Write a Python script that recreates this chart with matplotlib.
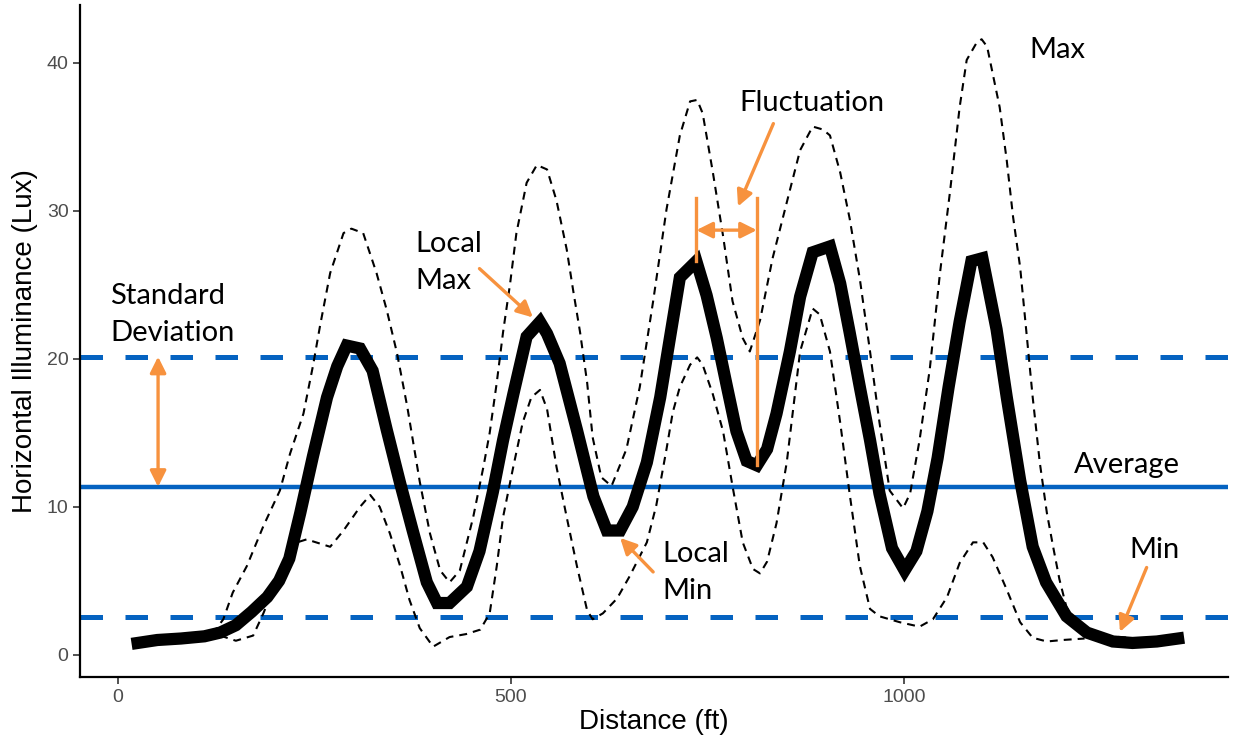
import matplotlib.pyplot as plt

# illuminance profile along the roadway (distance in ft, lux)
dist_mean = [25, 50, 80, 110, 130, 150, 170, 190, 205, 218, 232, 248, 266, 279,
             291, 308, 324, 342, 359, 375, 393, 406, 422, 444, 460, 477, 490,
             503, 520, 537, 546, 562, 584, 605, 622, 639, 655, 673, 690, 702,
             715, 736, 749, 762, 775, 787, 800, 813, 826, 838, 855, 868, 884,
             906, 919, 931, 944, 957, 969, 985, 1001, 1016, 1030, 1043, 1057,
             1071, 1086, 1100, 1118, 1131, 1148, 1164, 1181, 1207, 1233, 1266,
             1291, 1322, 1349]
lux_mean = [0.8, 1.0, 1.1, 1.25, 1.5, 2.0, 2.9, 3.9, 5.0, 6.5, 9.6, 13.4, 17.4,
            19.5, 20.9, 20.7, 19.2, 15.2, 11.6, 8.4, 4.9, 3.5, 3.5, 4.6, 7.0,
            11.0, 14.5, 17.6, 21.5, 22.5, 21.7, 19.7, 15.2, 10.7, 8.4, 8.4,
            10.0, 13.0, 17.4, 21.3, 25.5, 26.6, 24.3, 21.4, 18.1, 15.1, 13.1,
            12.8, 13.9, 16.3, 20.5, 24.2, 27.2, 27.6, 25.1, 21.8, 18.1, 14.5,
            10.9, 7.2, 5.7, 7.0, 9.7, 13.3, 18.1, 22.5, 26.6, 26.8, 22.0, 17.4,
            11.8, 7.3, 4.9, 2.6, 1.5, 0.9, 0.8, 0.9, 1.1]

dist_max = [120, 134, 146, 164, 185, 206, 219, 236, 248, 257, 270, 287, 297,
            312, 329, 342, 355, 368, 384, 397, 410, 422, 435, 452, 465, 473,
            482, 490, 499, 507, 520, 533, 546, 558, 571, 579, 588, 597, 604,
            615, 628, 647, 664, 681, 698, 715, 728, 737, 744, 757, 770, 782,
            795, 804, 817, 833, 855, 868, 884, 897, 906, 919, 931, 944, 957,
            969, 982, 999, 1008, 1020, 1033, 1046, 1059, 1071, 1080, 1093,
            1099, 1106, 1113, 1122, 1131, 1139, 1148, 1156, 1164, 1173, 1182,
            1190, 1198, 1207, 1224, 1249, 1288]
lux_max = [1.4, 2.4, 4.2, 6.0, 8.7, 11.1, 13.6, 16.3, 19.5, 22.2, 25.8, 28.5,
           28.8, 28.5, 25.8, 23.3, 20.4, 16.8, 11.7, 8.2, 5.7, 4.9, 5.7, 9.3,
           12.7, 15.0, 18.4, 21.8, 25.1, 28.5, 31.9, 33.1, 32.8, 30.7, 27.4,
           24.7, 21.8, 18.4, 14.7, 12.0, 11.4, 13.9, 18.1, 23.9, 30.1, 35.1,
           37.4, 37.5, 36.6, 32.6, 28.3, 23.9, 21.4, 20.5, 22.6, 26.8, 31.4,
           34.1, 35.7, 35.5, 35.1, 32.6, 29.5, 25.4, 20.5, 15.7, 11.1, 9.9,
           10.9, 14.5, 19.3, 25.8, 31.4, 37.0, 40.2, 41.4, 41.6, 41.1, 39.3,
           37.0, 33.4, 29.6, 26.2, 21.8, 17.4, 13.0, 9.6, 7.3, 5.1, 3.2, 1.8,
           1.3, 1.15]

dist_min = [130, 150, 172, 185, 197, 215, 228, 240, 270, 287, 308, 321, 333,
            346, 359, 371, 384, 401, 422, 443, 461, 473, 482, 490, 503, 515,
            526, 537, 546, 558, 571, 584, 597, 604, 617, 635, 651, 673, 685,
            698, 706, 715, 728, 737, 744, 757, 770, 782, 795, 808, 817, 826,
            838, 851, 868, 884, 893, 906, 919, 931, 944, 957, 969, 995, 1020,
            1037, 1055, 1071, 1088, 1101, 1113, 1131, 1148, 1164, 1182, 1202,
            1230]
lux_min = [1.3, 0.95, 1.3, 2.8, 4.4, 6.4, 7.6, 7.8, 7.3, 8.4, 10.0, 10.8, 10.0,
           8.2, 6.0, 3.7, 1.8, 0.55, 1.2, 1.4, 1.7, 2.8, 6.0, 9.3, 12.7, 15.7,
           17.4, 17.9, 16.6, 12.7, 9.3, 6.0, 3.0, 2.4, 2.8, 3.8, 5.3, 7.6,
           10.1, 13.9, 16.4, 18.1, 19.6, 20.1, 19.6, 17.6, 15.1, 11.4, 7.6,
           5.8, 5.5, 6.3, 8.9, 13.0, 20.5, 23.4, 23.0, 20.5, 15.7, 10.9, 6.0,
           3.1, 2.6, 2.2, 1.9, 2.4, 3.9, 6.2, 7.6, 7.6, 6.6, 4.4, 2.2, 1.15,
           0.9, 1.0, 1.1]

avg_lux = 11.35
std_lux = 8.8

blue = '#0563C1'
orange = '#F7923E'
note_font = 'Lato'
note_size = 21


def orange_arrow(ax, head, tail, both=False):
    style = '<|-|>' if both else '-|>'
    ax.annotate('', xy=head, xytext=tail,
                arrowprops=dict(arrowstyle=style, color=orange, lw=2.4,
                                mutation_scale=24, shrinkA=0, shrinkB=0))


def note(ax, x, y, s, ha='left'):
    ax.text(x, y, s, fontsize=note_size, family=note_font, ha=ha,
            va='center', linespacing=1.5)


fig = plt.figure(figsize=(12.35, 7.46), dpi=100)
ax = fig.add_axes([0.065, 0.0925, 0.929, 0.9005])

# summary lines
ax.axhline(avg_lux, color=blue, lw=3.2, zorder=1)
for level in (avg_lux + std_lux, avg_lux - std_lux):
    ax.axhline(level, color=blue, lw=3.6, dashes=(4.5, 4.5), zorder=1)

ax.plot(dist_max, lux_max, color='black', lw=1.5, dashes=(3.8, 2.9), zorder=2)
ax.plot(dist_min, lux_min, color='black', lw=1.5, dashes=(3.8, 2.9), zorder=2)
ax.plot(dist_mean, lux_mean, color='black', lw=8.8, solid_joinstyle='miter',
        zorder=3)

# standard deviation
orange_arrow(ax, (51, avg_lux + std_lux), (51, avg_lux), both=True)
note(ax, -10, 23.0, 'Standard\nDeviation')

# local max / local min
note(ax, 378, 26.5, 'Local\nMax')
orange_arrow(ax, (528, 22.8), (460, 26.1))
note(ax, 693, 5.55, 'Local\nMin')
orange_arrow(ax, (639, 7.9), (681, 5.6))

# fluctuation between a local max and the next local min
peak_d, peak_v = 736, 26.6
dip_d, dip_v = 813, 12.8
ax.plot([peak_d, peak_d], [peak_v, 30.9], color=orange, lw=2.4, zorder=4)
ax.plot([dip_d, dip_d], [dip_v, 30.9], color=orange, lw=2.4, zorder=4)
orange_arrow(ax, (dip_d, 28.7), (peak_d, 28.7), both=True)
orange_arrow(ax, (789, 30.3), (834, 35.9))
note(ax, 883, 37.3, 'Fluctuation', ha='center')

note(ax, 1284, 12.8, 'Average', ha='center')
note(ax, 1160, 40.9, 'Max')
note(ax, 1319, 7.1, 'Min', ha='center')
orange_arrow(ax, (1275, 1.55), (1309, 5.9))

ax.set_xlim(-48, 1412)
ax.set_ylim(-1.5, 43.9)
ax.set_xticks([0, 500, 1000])
ax.set_yticks([0, 10, 20, 30, 40])
for side in ('top', 'right'):
    ax.spines[side].set_visible(False)
for side in ('left', 'bottom'):
    ax.spines[side].set_linewidth(1.6)
ax.tick_params(length=5, width=1.2, color='#333333', labelsize=14,
               labelcolor='#4D4D4D')
for lbl in ax.get_xticklabels() + ax.get_yticklabels():
    lbl.set_family('Liberation Sans')
ax.set_xlabel('Distance (ft)', fontsize=20, family='Liberation Sans',
              labelpad=2)
ax.set_ylabel('Horizontal Illuminance (Lux)', fontsize=20,
              family='Liberation Sans', labelpad=6)

fig.savefig('out.png', dpi=100)
